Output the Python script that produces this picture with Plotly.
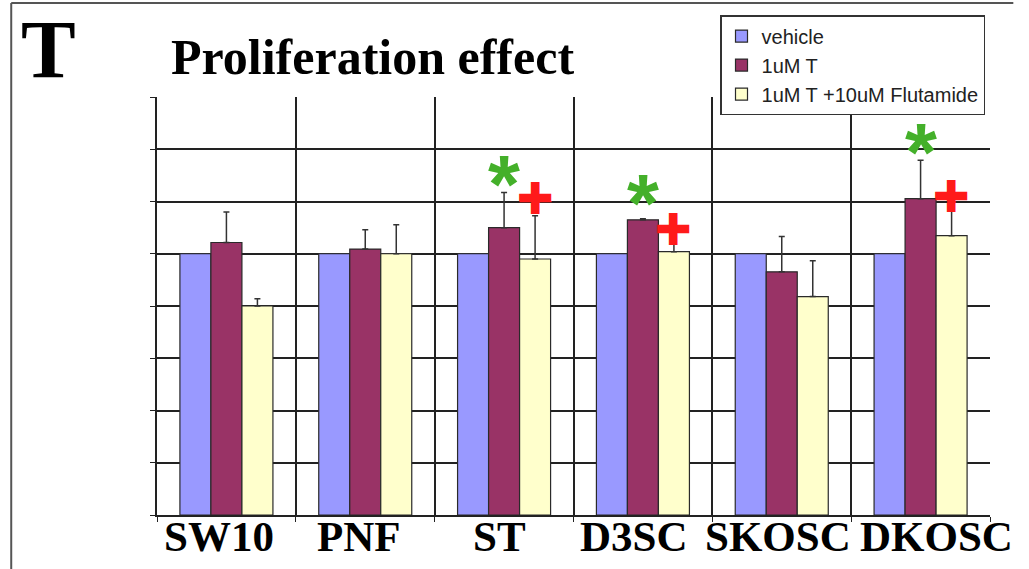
import plotly.graph_objects as go

categories = ["SW10", "PNF", "ST", "D3SC", "SKOSC", "DKOSC"]
series_names = ["vehicle", "1uM T", "1uM T +10uM Flutamide"]
vehicle = [1.0, 1.0, 1.0, 1.0, 1.0, 1.0]
t_1um = [1.043, 1.018, 1.100, 1.130, 0.931, 1.211]
t_1um_err = [0.117, 0.074, 0.134, 0.004, 0.135, 0.147]
t_flut = [0.800, 1.000, 0.980, 1.008, 0.836, 1.069]
t_flut_err = [0.028, 0.111, 0.165, 0.049, 0.137, 0.095]

# significance marks: (category index, y)
asterisk_marks = [(2, 1.305), (3, 1.229), (5, 1.427)]
plus_marks = [(2, 1.210), (3, 1.092), (5, 1.221)]

colors = ["#9999ff", "#993366", "#ffffcc"]
outline = "#2a2a2a"
# horizontal pixel nudges of the category labels (layout only)
label_nudge = [-7, -6, -5, -9, -4, 16]

fig = go.Figure()
fig.add_trace(go.Bar(name=series_names[0], x=categories, y=vehicle,
                     marker=dict(color=colors[0], line=dict(color=outline, width=1.2))))
fig.add_trace(go.Bar(name=series_names[1], x=categories, y=t_1um,
                     marker=dict(color=colors[1], line=dict(color=outline, width=1.2)),
                     error_y=dict(type="data", array=t_1um_err, arrayminus=[0]*6, symmetric=False,
                                  color="#333333", thickness=1.5, width=3)))
fig.add_trace(go.Bar(name=series_names[2], x=categories, y=t_flut,
                     marker=dict(color=colors[2], line=dict(color=outline, width=1.2)),
                     error_y=dict(type="data", array=t_flut_err, arrayminus=[0]*6, symmetric=False,
                                  color="#333333", thickness=1.5, width=3)))

bar_w = 0.223
for ci, yv in asterisk_marks:
    fig.add_annotation(x=ci, y=yv, xref="x", yref="y", text="*", showarrow=False,
                       font=dict(family="Liberation Sans", size=82, color="#44b02a", weight="bold"),
                       yanchor="middle", yshift=-9)
for ci, yv in plus_marks:
    fig.add_annotation(x=ci + bar_w, y=yv, xref="x", yref="y", text="✚", showarrow=False,
                       font=dict(family="DejaVu Sans", size=44, color="#ff1a1a"),
                       yanchor="middle")

# category labels below the axis
for i, cat in enumerate(categories):
    fig.add_annotation(x=i, y=0, xref="x", yref="y", text="<b>%s</b>" % cat, showarrow=False,
                       xanchor="center", yanchor="top", yshift=4, xshift=label_nudge[i],
                       font=dict(family="Liberation Serif", size=43, color="black"))

# Titles
fig.add_annotation(x=-0.166, y=1.113, xref="paper", yref="paper", text="<b>T</b>", showarrow=False,
                   xanchor="left", yanchor="middle",
                   font=dict(family="Liberation Serif", size=82, color="black"))
fig.add_annotation(x=0.014, y=1.095, xref="paper", yref="paper", text="<b>Proliferation effect</b>",
                   showarrow=False, xanchor="left", yanchor="middle",
                   font=dict(family="Liberation Serif", size=50, color="black"))

# outer frame lines
fig.add_shape(type="line", xref="paper", yref="paper", x0=-0.175, x1=1.028, y0=1.225, y1=1.225,
              line=dict(color="#555555", width=2))
fig.add_shape(type="line", xref="paper", yref="paper", x0=-0.175, x1=-0.175, y0=1.225, y1=-0.14,
              line=dict(color="#555555", width=2))

fig.update_layout(
    width=1029, height=569,
    margin=dict(l=157, r=39, t=97, b=54, autoexpand=False),
    paper_bgcolor="white", plot_bgcolor="white",
    barmode="group", bargap=0.33, bargroupgap=0,
    showlegend=True,
    legend=dict(x=0.994, y=1.196, xanchor="right", yanchor="top",
                bgcolor="white", bordercolor="#333333", borderwidth=1.5,
                font=dict(family="Liberation Sans", size=20, color="#222222"),
                tracegroupgap=0, itemwidth=30),
)
fig.update_xaxes(type="category", range=[-0.5, len(categories) - 0.5], autorange=False,
                 tickson="boundaries", showgrid=True, gridcolor="#222222", gridwidth=1.5,
                 showline=True, linecolor="#222222", linewidth=1.5, mirror=False,
                 ticks="outside", ticklen=5, tickcolor="#222222", showticklabels=False, automargin=False)
fig.update_yaxes(range=[0, 1.6], autorange=False, dtick=0.2, showgrid=True, gridcolor="#222222", gridwidth=1.5,
                 showline=True, linecolor="#222222", linewidth=1.5, automargin=False,
                 ticks="outside", ticklen=5, tickcolor="#222222", showticklabels=False,
                 zeroline=False)

fig.write_html("out.html")
